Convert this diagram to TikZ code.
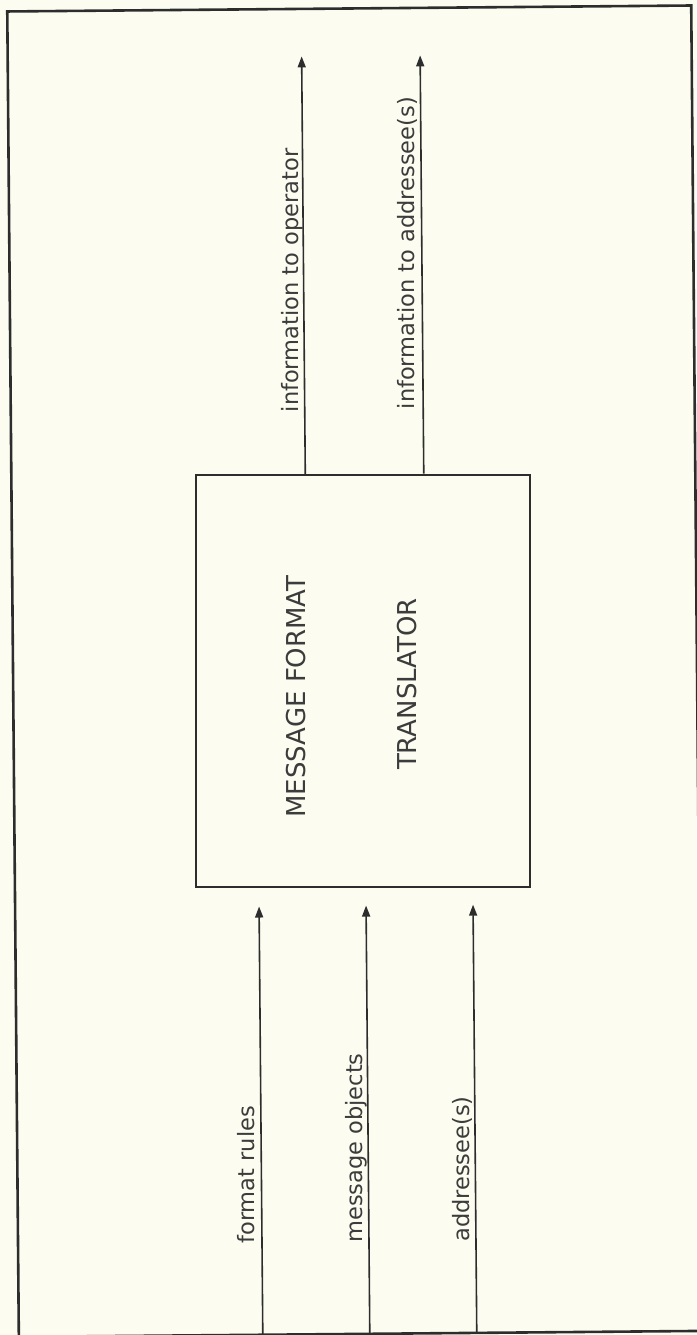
\documentclass[tikz,border=0pt]{standalone}
\usepackage{fontspec}
\setmainfont{DejaVu Sans}
\usetikzlibrary{arrows.meta,calc}
\definecolor{paper}{RGB}{252,253,240}
\definecolor{ink}{RGB}{45,45,45}
\definecolor{txt}{RGB}{60,60,60}
\tikzset{
  frameline/.style={draw=ink,line width=2.6pt},
  boxline/.style={draw=ink,line width=1.6pt,inner sep=0pt},
  arr/.style={draw=ink,line width=1.6pt,-{Triangle[length=11pt,width=8pt]}},
  lbl/.style={text=txt,rotate=90,anchor=base west,inner sep=0pt,font=\fontsize{22.5}{27}\selectfont},
  boxtxt/.style={text=txt,rotate=90,inner sep=0pt,font=\fontsize{26}{30}\selectfont}
}
\begin{document}
\begin{tikzpicture}[x=1pt,y=-1pt]
\fill[paper] (0,0) rectangle (696,1335);
\useasboundingbox (0,0) rectangle (696,1335);
\begin{scope}[rotate around={0.5:(348,668)}]
  \draw[frameline] (13,8.5) rectangle (697,1334);
  \node[boxline,minimum width=334pt,minimum height=412pt] (mft) at (363,681) {};
  \node[boxtxt] (t1) at (296,696) {MESSAGE FORMAT};
  \node[boxtxt] (t2) at (407,684.5) {TRANSLATOR};
  % outputs
  \coordinate (oA) at (307,56);
  \coordinate (oB) at (425.5,56);
  \draw[arr] (mft.north -| oA) -- (oA);
  \draw[arr] (mft.north -| oB) -- (oB);
  \node[lbl] (lA) at (300.5,412) {information to operator};
  \node[lbl] (lB) at (416.5,410) {information to addressee(s)};
  % inputs
  \coordinate (iA) at (257,1334);
  \coordinate (iB) at (364,1334);
  \coordinate (iC) at (471,1334);
  \draw[arr] (iA) -- ($(mft.south -| iA)+(0,18)$);
  \draw[arr] (iB) -- ($(mft.south -| iB)+(0,18)$);
  \draw[arr] (iC) -- ($(mft.south -| iC)+(0,18)$);
  \node[lbl] (kA) at (249,1243) {format rules};
  \node[lbl] (kB) at (357,1243) {message objects};
  \node[lbl] (kC) at (464,1243) {addressee(s)};
\end{scope}
\end{tikzpicture}
\end{document}
